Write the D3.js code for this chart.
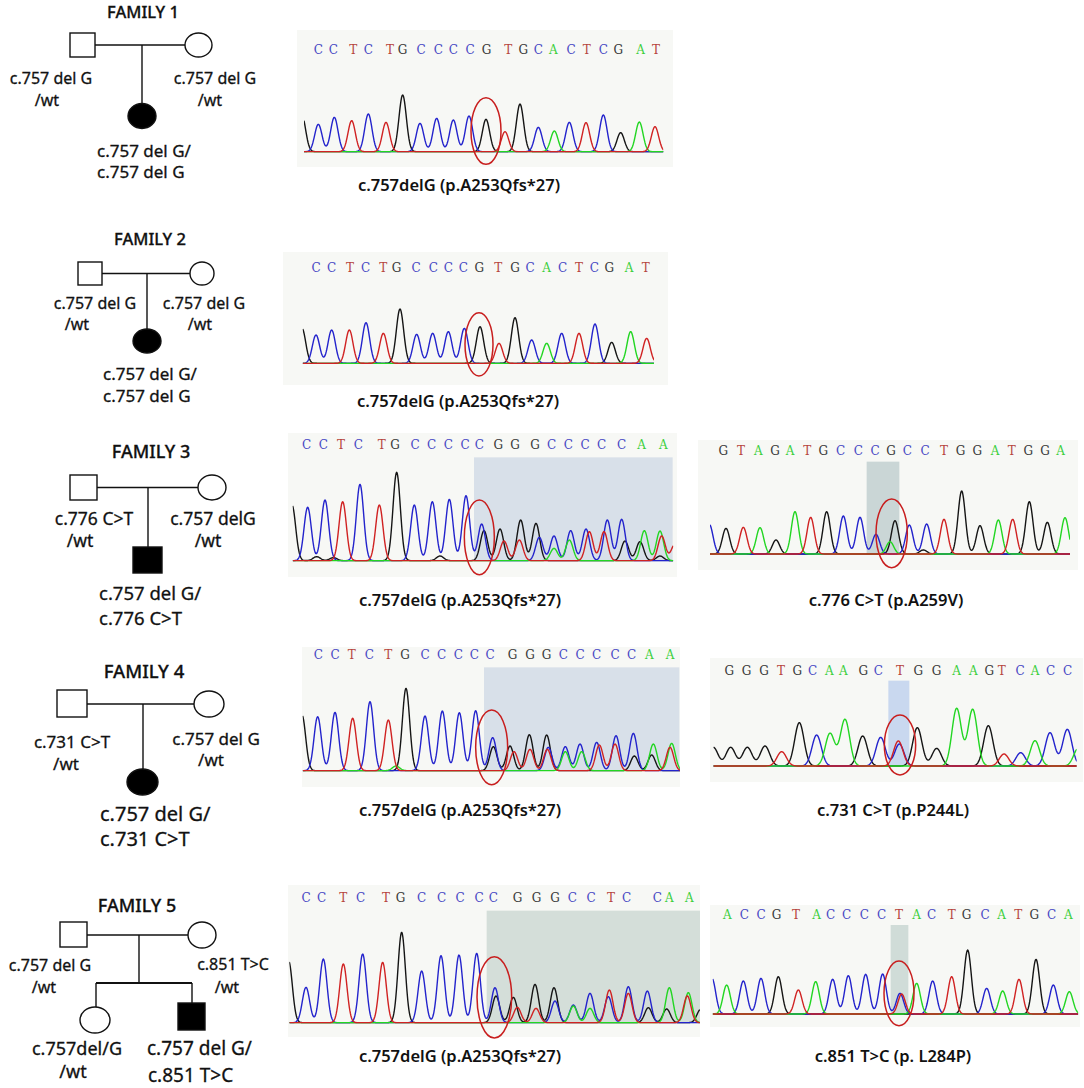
<!DOCTYPE html>
<html>
<head>
<meta charset="utf-8">
<script src="https://cdn.jsdelivr.net/npm/d3@7"></script>
<style>
  body { margin: 0; background: #fff; }
  svg { display: block; }
  .ped text { font-family: "Noto Sans", "DejaVu Sans", sans-serif; fill: #111; stroke: #111; stroke-width: 0.3px; }
  .mut { font-family: "Noto Sans", sans-serif; font-weight: 600; font-size: 16.5px; fill: #111; }
  .base { font-family: "DejaVu Serif", serif; font-size: 12px; }
</style>
</head>
<body>
<div id="fig"></div>
<script>
// ---- pedigree data ----
const familyTitles = ["FAMILY 1", "FAMILY 2", "FAMILY 3", "FAMILY 4", "FAMILY 5"];
const fatherGeno = [["c.757 del G", "/wt"], ["c.757 del G", "/wt"], ["c.776 C>T", "/wt"], ["c.731 C>T", "/wt"], ["c.757 del G", "/wt"]];
const motherGeno = [["c.757 del G", "/wt"], ["c.757 del G", "/wt"], ["c.757 delG", "/wt"], ["c.757 del G", "/wt"], ["c.851 T>C", "/wt"]];
// children: [sex, affected, genotype lines]
const children = [
  [["F", true, ["c.757 del G/", "c.757 del G"]]],
  [["F", true, ["c.757 del G/", "c.757 del G"]]],
  [["M", true, ["c.757 del G/", "c.776 C>T"]]],
  [["F", true, ["c.757 del G/", "c.731 C>T"]]],
  [["F", false, ["c.757del/G", "/wt"]], ["M", true, ["c.757 del G/", "c.851 T>C"]]]
];
const mutationLabels = ["c.757delG (p.A253Qfs*27)", "c.757delG (p.A253Qfs*27)", "c.757delG (p.A253Qfs*27)",
  "c.776 C>T (p.A259V)", "c.757delG (p.A253Qfs*27)", "c.731 C>T (p.P244L)", "c.757delG (p.A253Qfs*27)", "c.851 T>C (p. L284P)"];

// ---- chromatogram data: base calls (scan position) and peaks [scan, base, signal] ----
const seq1 = "CCTCTGCCCCGTGCACTCGAT";
const seqX1 = [85,130,190,235,300,338,393,445,490,540,590,655,700,745,790,843,890,940,985,1052,1098];
const peaks1 = [[36,'G',108],[85,'C',82],[133,'C',103],[185,'T',93],[235,'C',113],[288,'T',88],[338,'G',170],
  [390,'C',85],[440,'C',100],[490,'C',95],[537,'C',107],[588,'G',97],[645,'T',60],[690,'G',143],[745,'C',73],
  [793,'A',62],[838,'C',88],[888,'T',87],[940,'C',110],[992,'G',57],[1048,'A',89],[1095,'T',75]];

const seq2 = "CCTCTGCCCCGTGCACTCGAT";
const seqX2 = [108,155,210,257,310,350,408,460,505,550,598,655,705,750,800,848,897,943,988,1047,1097];
const peaks2 = [[66,'G',105],[108,'C',85],[155,'C',100],[208,'T',100],[258,'C',122],[310,'T',90],[360,'G',163],
  [410,'C',87],[458,'C',90],[505,'C',95],[553,'C',105],[600,'G',110],[657,'T',60],[705,'G',137],[755,'C',70],
  [800,'A',60],[845,'C',90],[897,'T',90],[945,'C',118],[995,'G',63],[1052,'A',95],[1100,'T',75]];

const seq3 = "CCTCTGCCCCCGGGCCCCCAA";
const seqX3 = [80,130,183,235,305,345,405,455,505,555,598,655,705,765,815,865,915,965,1025,1085,1150];
const peaks3 = [[36,'G',167],[83,'C',160],[135,'C',182],[188,'T',177],[240,'C',229],[298,'T',167],[350,'G',265],
  [403,'C',167],[457,'C',177],[508,'C',184],[558,'C',195],[110,'G',12],[160,'G',9],[480,'G',14],
  [605,'C',110],[612,'G',90],[660,'G',95],[672,'T',59],[722,'G',122],[718,'T',62],[768,'G',112],[778,'C',70],
  [822,'C',74],[822,'A',37],[872,'C',90],[868,'A',62],[928,'T',87],[918,'C',95],[972,'T',87],[982,'C',122],
  [1025,'C',124],[1035,'G',59],[1080,'G',57],[1093,'A',90],[1140,'A',89],[1145,'T',74],[1140,'G',14],[1185,'T',50]];

const seq4 = "GTAGATGCCCGCCTGGATGGA";
const seqX4 = [100,153,205,255,300,352,400,452,505,555,603,652,705,762,812,862,915,965,1015,1065,1112];
const peaks4 = [[58,'C',89],[108,'G',77],[160,'T',80],[210,'A',79],[258,'G',42],[315,'A',127],[362,'T',110],
  [410,'G',127],[460,'C',114],[510,'C',110],[558,'C',59],[600,'A',37],[615,'G',100],[658,'C',87],[700,'G',12],
  [710,'C',90],[762,'T',104],[815,'G',189],[870,'G',85],[925,'A',102],[968,'T',104],[1018,'G',157],
  [1072,'G',95],[1125,'A',109]];

const seq5 = "CCTCTGCCCCCGGGCCCCCAA";
const seqX5 = [85,135,185,238,295,345,405,455,505,553,600,668,720,770,820,870,920,975,1025,1078,1140];
const peaks5 = [[36,'G',167],[83,'C',162],[135,'C',175],[188,'T',157],[240,'C',207],[295,'T',152],[348,'G',247],
  [318,'A',14],[405,'C',164],[457,'C',179],[508,'C',174],[557,'C',180],
  [608,'C',99],[610,'G',72],[660,'G',74],[672,'T',57],[718,'G',108],[720,'T',64],[770,'G',107],[775,'C',70],
  [772,'T',64],[826,'C',72],[826,'A',57],[870,'C',80],[875,'A',57],[920,'C',85],[928,'T',77],[978,'C',105],
  [975,'T',80],[1030,'C',112],[1033,'G',44],[1085,'G',47],[1090,'A',80],[1145,'A',82],[1140,'T',70]];

const seq6 = "GGGTGCAAGCTGGAAGTCACC";
const seqX6 = [88,140,192,243,292,338,388,430,490,535,600,655,710,770,820,868,905,960,1005,1052,1103];
const peaks6 = [[40,'G',56],[92,'G',56],[142,'G',56],[195,'G',60],[245,'T',43],[298,'G',130],[350,'C',93],
  [390,'A',98],[435,'A',140],[488,'G',90],[542,'C',86],[598,'C',66],[595,'T',75],[652,'G',115],[710,'G',53],
  [770,'A',173],[818,'A',170],[865,'G',121],[912,'T',36],[962,'C',40],[1005,'A',76],[1050,'C',100],
  [1102,'C',110],[1135,'A',53]];

const seq7 = "CCTCTGCCCCCGGGCCTCCAA";
const seqX7 = [78,125,190,242,318,362,425,485,540,597,640,713,770,825,877,933,993,1040,1132,1168,1228];
const peaks7 = [[26,'G',185],[78,'C',106],[130,'C',191],[190,'T',176],[248,'C',206],[308,'T',181],[365,'G',271],
  [425,'C',155],[483,'C',201],[537,'C',203],[590,'C',208],[645,'C',105],[648,'G',80],[700,'G',76],[712,'T',46],
  [765,'G',115],[768,'T',43],[822,'G',105],[825,'C',65],[880,'C',53],[880,'A',50],[930,'C',88],[930,'A',43],
  [988,'T',98],[985,'C',78],[1045,'T',88],[1045,'C',108],[1102,'C',95],[1105,'G',45],[1160,'G',41],
  [1168,'A',105],[1222,'T',80],[1225,'A',90],[1262,'G',40]];

const seq8 = "ACCGTACCCCTACTGCATGCA";
const seqX8 = [82,133,183,230,288,350,392,440,493,545,597,650,695,755,800,855,905,955,1003,1055,1105];
const peaks8 = [[36,'C',107],[80,'A',87],[130,'C',99],[183,'C',107],[235,'G',112],[295,'T',72],[347,'A',97],
  [398,'C',104],[445,'C',115],[497,'C',119],[548,'C',120],[600,'C',62],[605,'T',60],[650,'A',92],[698,'C',99],
  [755,'T',112],[803,'G',192],[860,'C',77],[908,'A',69],[957,'T',104],[1008,'G',164],[1060,'C',87],[1108,'A',67]];

const seqs = [seq1, seq2, seq3, seq4, seq5, seq6, seq7, seq8];
const seqXs = [seqX1, seqX2, seqX3, seqX4, seqX5, seqX6, seqX7, seqX8];
const peakSets = [peaks1, peaks2, peaks3, peaks4, peaks5, peaks6, peaks7, peaks8];

// ---- styles ----
const traceColor = { G: '#151515', C: '#2323cc', A: '#22d622', T: '#d02222' };
const letterColor = { G: '#3a3a3a', C: '#4848c4', A: '#3ccf3c', T: '#b5443c' };

const W = 1084, H = 1088;
const svg = d3.select('#fig').append('svg').attr('width', W).attr('height', H);

// ---- chromatogram panel layout (ox, oy = crop origin; scan/signal units are 3 per pixel) ----
const panels = [
  { ox: 290, oy: 30,  base: 365, trace: [42, 1120], sigma: 11, letterY: 60,  bg: [297, 30, 376, 137], shade: null, ell: [588, 303, 45, 100], label: [459, 191] },
  { ox: 280, oy: 250, base: 340, trace: [68, 1122], sigma: 11, letterY: 55,  bg: [283, 252, 385, 133], shade: null, ell: [597, 283, 42, 95], label: [458, 407] },
  { ox: 280, oy: 430, base: 392, trace: [38, 1180], sigma: 11, letterY: 45,  bg: [288, 433, 389, 144], shade: [582, 82, 1178, 395, '#d8e0e9'], ell: [598, 322, 45, 112], label: [460, 606] },
  { ox: 690, oy: 430, base: 372, trace: [60, 1140], sigma: 11, letterY: 62,  bg: [698, 440, 380, 130], shade: [530, 95, 628, 375, '#cad6d6'], ell: [605, 310, 47, 103], label: [886, 606] },
  { ox: 290, oy: 640, base: 392, trace: [38, 1170], sigma: 11, letterY: 45,  bg: [302, 647, 378, 140], shade: [582, 82, 1168, 392, '#d8e0e9'], ell: [605, 322, 48, 112], label: [460, 816] },
  { ox: 700, oy: 640, base: 378, trace: [40, 1130], sigma: 14, letterY: 92,  bg: [710, 658, 373, 124], shade: [565, 122, 628, 378, '#c9d8ef'], ell: [600, 315, 47, 90], label: [893, 816] },
  { ox: 280, oy: 880, base: 428, trace: [28, 1260], sigma: 11, letterY: 55,  bg: [288, 885, 412, 152], shade: [620, 92, 1260, 430, '#d4ded9'], ell: [643, 352, 52, 122], label: [460, 1062] },
  { ox: 700, oy: 880, base: 402, trace: [38, 1135], sigma: 11, letterY: 105, bg: [710, 905, 370, 122], shade: [572, 135, 625, 405, '#d0dcd8'], ell: [597, 340, 45, 97], label: [893, 1062] }
];

panels.forEach((p, i) => {
  const x = d3.scaleLinear().domain([0, 1200]).range([p.ox, p.ox + 400]);
  const sy = d3.scaleLinear().domain([0, 600]).range([p.oy, p.oy + 200]);
  const g = svg.append('g').attr('class', 'chromatogram');

  g.append('rect').attr('x', p.bg[0]).attr('y', p.bg[1]).attr('width', p.bg[2]).attr('height', p.bg[3])
    .attr('fill', '#f7f8f5');

  if (p.shade) {
    g.append('rect').attr('x', x(p.shade[0])).attr('y', sy(p.shade[1]))
      .attr('width', x(p.shade[2]) - x(p.shade[0])).attr('height', sy(p.shade[3]) - sy(p.shade[1]))
      .attr('fill', p.shade[4]);
  }

  // base-call letters
  g.selectAll('text.base').data(seqs[i].split('').map((b, k) => ({ b, s: seqXs[i][k] })))
    .join('text').attr('class', 'base')
    .attr('x', d => x(d.s)).attr('y', sy(p.letterY))
    .attr('text-anchor', 'middle').attr('dominant-baseline', 'central')
    .attr('fill', d => letterColor[d.b]).text(d => d.b);

  // traces: one line per dye channel
  const clipId = 'clip' + i;
  svg.append('clipPath').attr('id', clipId).append('rect')
    .attr('x', x(p.trace[0])).attr('y', p.oy).attr('width', x(p.trace[1]) - x(p.trace[0])).attr('height', 200);
  const scans = d3.range(p.trace[0], p.trace[1] + 1, 1.5);
  const line = d3.line().x(d => x(d[0])).y(d => sy(p.base - d[1]));
  ['G', 'C', 'A', 'T'].forEach(b => {
    const pk = peakSets[i].filter(d => d[1] === b);
    const pts = scans.map(s => [s, d3.sum(pk, d => d[2] * Math.exp(-((s - d[0]) ** 2) / (2 * p.sigma * p.sigma)))]);
    g.append('path').attr('clip-path', `url(#${clipId})`).attr('d', line(pts))
      .attr('fill', 'none').attr('stroke', traceColor[b]).attr('stroke-width', 1.4).attr('stroke-linejoin', 'round');
  });

  // red ellipse marking the variant
  g.append('ellipse').attr('cx', x(p.ell[0])).attr('cy', sy(p.ell[1]))
    .attr('rx', x(p.ell[2]) - x(0)).attr('ry', sy(p.ell[3]) - sy(0))
    .attr('fill', 'none').attr('stroke', '#c81e1e').attr('stroke-width', 1.5);

  g.append('text').attr('class', 'mut').attr('x', p.label[0]).attr('y', p.label[1])
    .attr('text-anchor', 'middle').text(mutationLabels[i]);
});

// ---- pedigrees ----
const pedLayout = [
  { title: [143, 18, 16.5], fs: 16, father: [70, 33, 25, 24], mother: [198.5, 45, 13.5, 12], mateY: 45, dropX: 142,
    fTxt: [[51, 84], [47, 106]], mTxt: [[215, 84], [210, 106]],
    kids: [{ shape: [142, 116, 14, 12.5], top: 103, x: 142, txt: [[97, 157], [97, 178]], anchor: 'start', fs: 17 }] },
  { title: [150, 245, 16.5], fs: 16, father: [78, 262, 24, 23], mother: [202, 273.5, 12, 11.5], mateY: 273.5, dropX: 147,
    fTxt: [[95, 309], [77, 330]], mTxt: [[204, 309], [200, 330]],
    kids: [{ shape: [147, 341, 14, 12], top: 329, x: 147, txt: [[103, 380], [103, 402]], anchor: 'start', fs: 17 }] },
  { title: [151, 458, 18], fs: 17.5, father: [70, 475, 27, 25], mother: [212, 487.5, 14, 12.5], mateY: 487.5, dropX: 148,
    fTxt: [[94, 525], [80, 547]], mTxt: [[213, 525], [208, 547]],
    kids: [{ shape: [133, 547, 29, 26], top: 547, x: 148, txt: [[99, 600], [99, 625]], anchor: 'start', fs: 18.5 }] },
  { title: [144, 678, 18.5], fs: 17, father: [57, 690, 30, 27], mother: [209, 704, 15, 13], mateY: 704, dropX: 143,
    fTxt: [[72, 748], [66, 770]], mTxt: [[216, 745], [211, 766]],
    kids: [{ shape: [142.5, 782, 15.5, 13], top: 769, x: 143, txt: [[100, 821], [100, 846]], anchor: 'start', fs: 20 }] },
  { title: [137, 912, 18], fs: 16, father: [60, 922, 27, 25], mother: [202, 935, 14, 13], mateY: 935, dropX: 139, sibY: 983,
    fTxt: [[50, 971], [44, 993]], mTxt: [[233, 970], [227, 993]],
    kids: [{ shape: [95, 1020, 15, 13], top: 1007, x: 96, txt: [[77, 1055], [73, 1078]], anchor: 'middle', fs: 18 },
           { shape: [178, 1003, 27, 27], top: 1003, x: 192, txt: [[147, 1055], [148, 1082]], anchor: 'start', fs: 19 }] }
];

const ped = svg.append('g').attr('class', 'ped');
function ln(x1, y1, x2, y2, w) {
  ped.append('line').attr('x1', x1).attr('y1', y1).attr('x2', x2).attr('y2', y2)
    .attr('stroke', '#111').attr('stroke-width', w || 1.4);
}
function drawShape(sex, filled, s) {
  const el = sex === 'M'
    ? ped.append('rect').attr('x', s[0]).attr('y', s[1]).attr('width', s[2]).attr('height', s[3])
    : ped.append('ellipse').attr('cx', s[0]).attr('cy', s[1]).attr('rx', s[2]).attr('ry', s[3]);
  el.attr('fill', filled ? '#000' : '#fff').attr('stroke', '#111').attr('stroke-width', 1.4);
}
function lines(txt, pos, anchor, fs) {
  txt.forEach((t, k) => ped.append('text').attr('x', pos[k][0]).attr('y', pos[k][1])
    .attr('text-anchor', anchor).attr('font-size', fs).text(t));
}

pedLayout.forEach((L, i) => {
  ped.append('text').attr('x', L.title[0]).attr('y', L.title[1]).attr('text-anchor', 'middle')
    .attr('font-size', L.title[2]).attr('font-weight', 500).text(familyTitles[i]);
  const f = L.father, m = L.mother;
  ln(f[0] + f[2], L.mateY, m[0] - m[2], L.mateY);
  if (L.sibY) {
    ln(L.dropX, L.mateY, L.dropX, L.sibY);
    ln(L.kids[0].x, L.sibY, L.kids[1].x, L.sibY, 2);
    L.kids.forEach(k => ln(k.x, L.sibY, k.x, k.top));
  } else {
    ln(L.dropX, L.mateY, L.dropX, L.kids[0].top);
  }
  drawShape('M', false, f);
  drawShape('F', false, m);
  lines(fatherGeno[i], L.fTxt, 'middle', L.fs);
  lines(motherGeno[i], L.mTxt, 'middle', L.fs);
  children[i].forEach((c, k) => {
    const K = L.kids[k];
    drawShape(c[0], c[1], K.shape);
    lines(c[2], K.txt, K.anchor, K.fs);
  });
});
</script>
</body>
</html>
